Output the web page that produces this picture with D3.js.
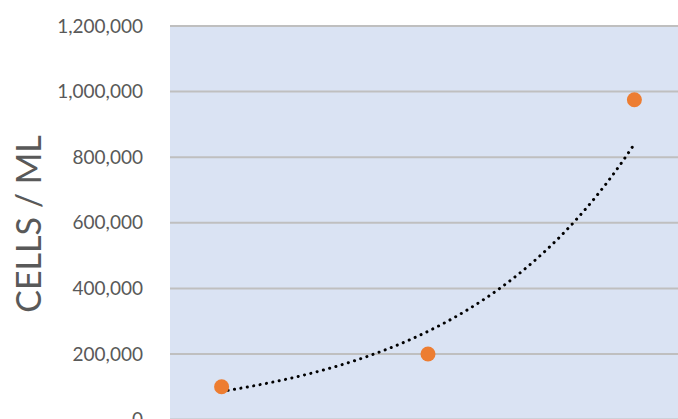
<!DOCTYPE html>
<html>
<head>
<meta charset="utf-8">
<script src="https://cdn.jsdelivr.net/npm/d3@7"></script>
<style>
  body { margin: 0; background: #fff; }
  svg { display: block; }
</style>
</head>
<body>
<script>
// chart data
var samples = [1, 2, 3];
var cellsPerMl = [100000, 200000, 975000];
var yTicks = [0, 200000, 400000, 600000, 800000, 1000000, 1200000];
var yTitle = "CELLS / ML";

var width = 678, height = 419;

var svg = d3.select("body").append("svg")
    .attr("width", width)
    .attr("height", height);

// plot area (runs past the right and bottom edge, like the cropped picture)
var plotLeft = 170, plotRight = 686;
var yTop = 26, yBottom = 419.6;

var x = d3.scaleLinear().domain([0.75, 3.25]).range([plotLeft, plotRight]);
var y = d3.scaleLinear().domain([0, 1200000]).range([yBottom, yTop]);

svg.append("rect")
    .attr("x", plotLeft)
    .attr("y", yTop)
    .attr("width", plotRight - plotLeft)
    .attr("height", yBottom - yTop)
    .style("fill", "#dae3f3");

// gridlines
svg.selectAll("line.grid")
    .data(yTicks)
    .enter()
    .append("line")
    .attr("class", "grid")
    .attr("x1", plotLeft)
    .attr("x2", plotRight)
    .attr("y1", function(d) { return y(d); })
    .attr("y2", function(d) { return y(d); })
    .attr("stroke", "#bfbfbf")
    .attr("stroke-width", 2);

// y axis labels
var fmt = d3.format(",");
svg.selectAll("text.tick")
    .data(yTicks)
    .enter()
    .append("text")
    .attr("class", "tick")
    .attr("x", 143)
    .attr("y", function(d) { return y(d); })
    .attr("dy", "0.35em")
    .attr("text-anchor", "end")
    .style("font-family", "Lato, 'Open Sans', sans-serif")
    .style("font-size", "19px")
    .style("fill", "#595959")
    .text(function(d) { return fmt(d); });

// axis title
svg.append("text")
    .attr("transform", "translate(41," + 224 + ") rotate(-90)")
    .attr("text-anchor", "middle")
    .style("font-family", "Lato, 'Open Sans', sans-serif")
    .style("font-size", "34px")
    .style("fill", "#595959")
    .text(yTitle);

// exponential trendline fitted to the points (least squares on ln y)
var n = samples.length;
var mx = d3.mean(samples);
var ml = d3.mean(cellsPerMl, function(v) { return Math.log(v); });
var sxy = 0, sxx = 0;
samples.forEach(function(s, i) {
    sxy += (s - mx) * (Math.log(cellsPerMl[i]) - ml);
    sxx += (s - mx) * (s - mx);
});
var b = sxy / sxx;
var a = ml - b * mx;
var trendX = d3.range(0, 61).map(function(i) {
    return samples[0] + (samples[n - 1] - samples[0]) * i / 60;
});

svg.append("path")
    .datum(trendX)
    .attr("d", d3.line()
        .x(function(d) { return x(d); })
        .y(function(d) { return y(Math.exp(a + b * d)); }))
    .attr("fill", "none")
    .attr("stroke", "#000")
    .attr("stroke-width", 3)
    .attr("stroke-linecap", "round")
    .attr("stroke-dasharray", "0.1 6.4");

// points
svg.selectAll("circle.pt")
    .data(samples)
    .enter()
    .append("circle")
    .attr("class", "pt")
    .attr("cx", function(d) { return x(d); })
    .attr("cy", function(d, i) { return y(cellsPerMl[i]); })
    .attr("r", 7.5)
    .style("fill", "#ed7d31");
</script>
</body>
</html>
